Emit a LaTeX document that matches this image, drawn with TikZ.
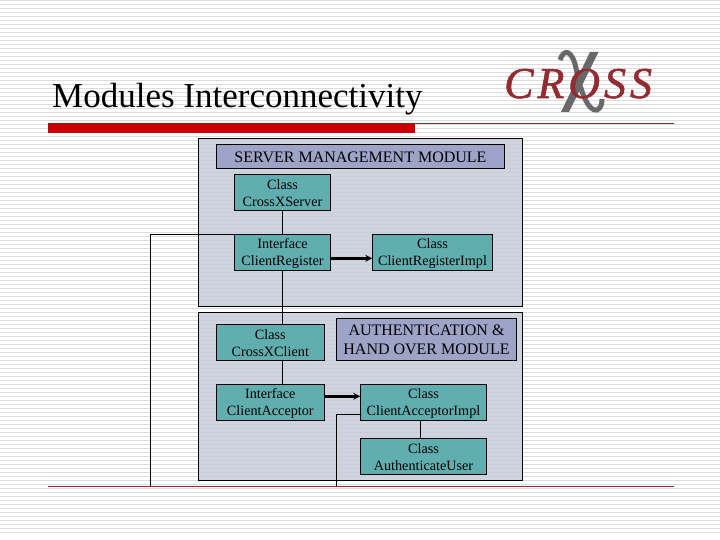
\documentclass[tikz,border=0pt]{standalone}
\usepackage{fontspec}
\setmainfont{Liberation Serif}
\newfontfamily\logofont{Liberation Serif}[LetterSpace=9,FakeBold=1.2]
\usepackage{tikz}
\usetikzlibrary{positioning,arrows.meta,calc}
\usepackage{xcolor}
\definecolor{stripegray}{HTML}{DCDCDC}
\definecolor{panelblue}{RGB}{195,202,215}
\definecolor{tealbox}{RGB}{85,170,170}
\definecolor{lilacbox}{RGB}{153,158,198}
\definecolor{barred}{RGB}{200,0,8}
\definecolor{rulered}{RGB}{150,40,50}
\definecolor{logored}{RGB}{145,45,50}
\definecolor{logogray}{RGB}{105,105,105}

\begin{document}
\begin{tikzpicture}[
  x=1pt, y=-1pt,
  stripe/.style={draw=stripegray, line width=1.3pt},
  panel/.style={draw, line width=0.8pt, fill=panelblue, fill opacity=0.8, text opacity=1, inner sep=0pt, outer sep=0pt, minimum width=324.4pt},
  modbox/.style={draw, line width=0.8pt, fill=lilacbox, fill opacity=0.9, text opacity=1, inner sep=0pt, outer sep=0pt, font=\fontsize{16}{19}\selectfont, align=center, execute at begin node=\rule{0pt}{12.5pt}},
  classbox/.style={draw, line width=0.8pt, fill=tealbox, fill opacity=0.9, text opacity=1, inner sep=0pt, outer sep=0pt, minimum height=36pt, font=\fontsize{14.2}{17}\selectfont, align=center, text height=29pt},
  link/.style={line width=0.8pt},
  impl/.style={-{Stealth[length=7pt,width=7pt]}, line width=2.4pt},
]
  \useasboundingbox (0,0) rectangle (720,540);

  % Background stripes
  \foreach \stripey in {0,4,...,532}
    \draw[stripe] (0,\stripey+0.7) -- (720,\stripey+0.7);

  % Title and rules
  \node[anchor=base west, inner sep=0pt, font=\fontsize{35}{40}\selectfont] (title) at (52,107.5) {Modules Interconnectivity};
  \fill[barred] (48,123.3) rectangle (415,132.7);
  \draw[rulered, line width=0.8pt] (415,123.5) -- (674,123.5);
  \draw[rulered, line width=0.8pt] (48,486.3) -- (674,486.3);

  % Logo
  \fill[logogray] (590,52) -- (598.5,52) -- (569,112) -- (561,112) -- cycle;
  \draw[logogray, line width=5pt] (560,60) .. controls (564,48) and (572,50) .. (576,68)
    .. controls (580,90) and (588,112) .. (597,110) .. controls (601,108) and (602,104) .. (602,99);
  \node[anchor=base west, inner sep=0pt, text=logored, font=\logofont\itshape\fontsize{44}{44}\selectfont] (logo) at (504,98) {CROSS};

  % Module panels
  \node[panel, minimum height=168pt] (serverpanel) at (360.5,222.3) {};
  \node[panel, minimum height=167.6pt] (authpanel) at (360.5,396.5) {};

  % Server management module
  \node[modbox, minimum width=288.4pt, minimum height=24.4pt] (serverlabel) at (360.5,156.5) {SERVER MANAGEMENT MODULE};
  \node[classbox, minimum width=96.4pt, below right=5.6pt and 18pt of serverlabel.south west] (crossxserver) {Class\\CrossXServer};
  \node[classbox, minimum width=96.4pt, below=24pt of crossxserver] (clientregister) {Interface\\ClientRegister};
  \node[classbox, minimum width=120.4pt, right=41.6pt of clientregister] (registerimpl) {Class\\ClientRegisterImpl};

  % Authentication and hand over module
  \node[classbox, minimum width=108pt] (crossxclient) at (270.3,342.3) {Class\\CrossXClient};
  \node[modbox, minimum width=180.4pt, minimum height=42pt, right=12pt of crossxclient.south east, anchor=south west] (authlabel) {AUTHENTICATION \&\\HAND OVER MODULE};
  \node[classbox, minimum width=108pt, below=24pt of crossxclient] (clientacceptor) {Interface\\ClientAcceptor};
  \node[classbox, minimum width=126.4pt, right=36pt of clientacceptor] (acceptorimpl) {Class\\ClientAcceptorImpl};
  \node[classbox, minimum width=126.4pt, below=18pt of acceptorimpl] (authuser) {Class\\AuthenticateUser};

  % Free ends on the lower rule
  \coordinate (leftdrop) at (150.5,486.3);
  \coordinate (rightdrop) at (336.5,486.3);

  % Connectors
  \draw[link] (crossxserver) -- (clientregister);
  \draw[link] (clientregister.south) -- (clientregister.south |- crossxclient.north);
  \draw[link] (clientregister.south |- crossxclient.south) -- (clientregister.south |- clientacceptor.north);
  \draw[link] (clientregister.north west) -| (leftdrop);
  \draw[link] ([yshift=6pt]acceptorimpl.south west) -| (rightdrop);
  \draw[link] ([xshift=-3pt]acceptorimpl.south) -- ([xshift=-3pt]authuser.north);
  \draw[impl] ([yshift=-6pt]clientregister.east) -- ([yshift=-6pt]registerimpl.west);
  \draw[impl] ([yshift=6pt]clientacceptor.east) -- ([yshift=6pt]acceptorimpl.west);
\end{tikzpicture}
\end{document}
